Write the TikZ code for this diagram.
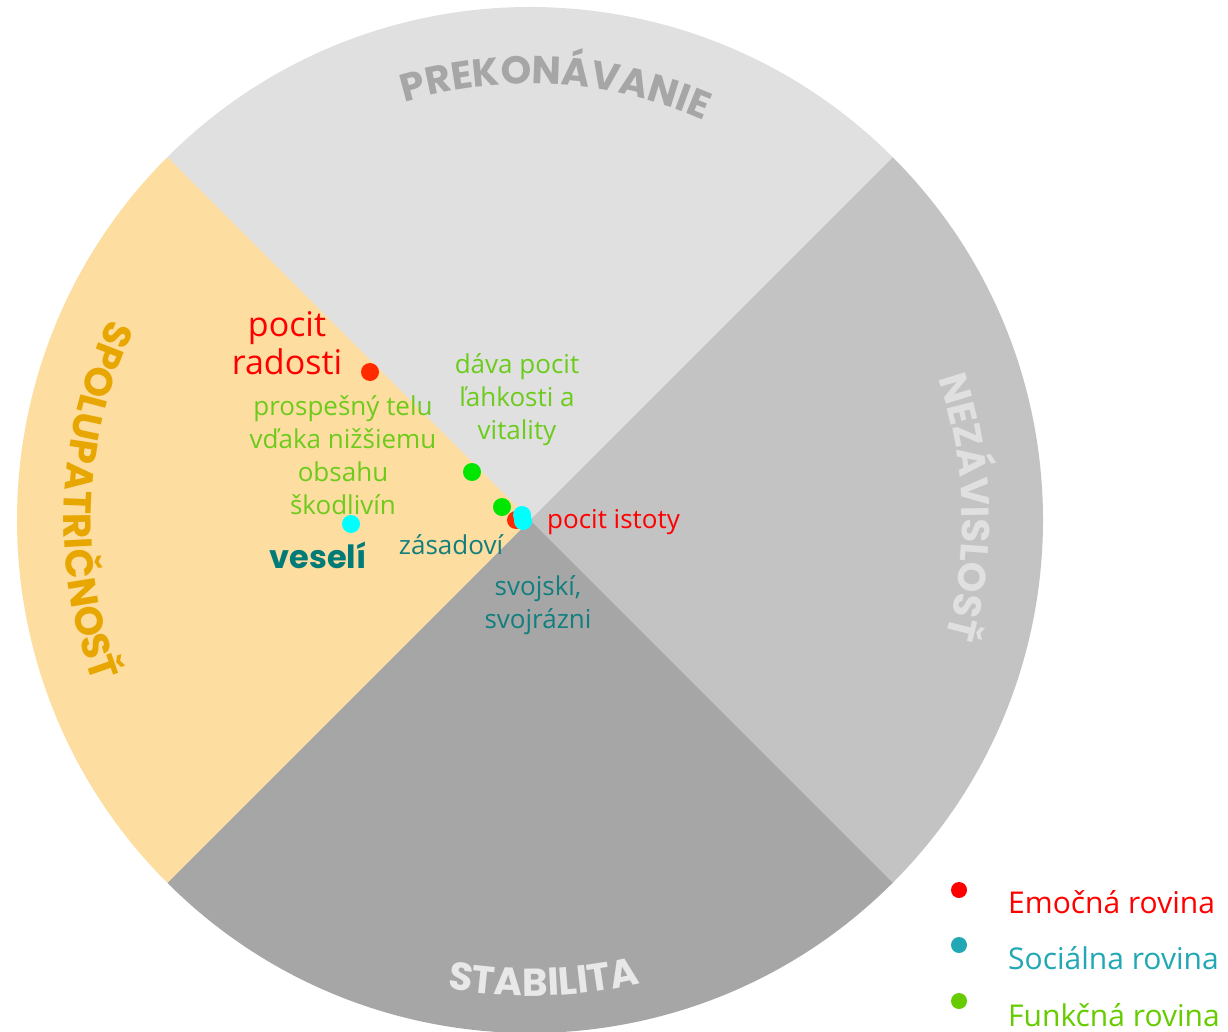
\documentclass[tikz,border=0pt]{standalone}
\usepackage{fontspec}
\setmainfont{Open Sans}
\newfontfamily\headfam{Poppins}
\usetikzlibrary{decorations.text}
\definecolor{wtop}{HTML}{E0E0E0}
\definecolor{wright}{HTML}{C3C3C3}
\definecolor{wbottom}{HTML}{A6A6A6}
\definecolor{wleft}{HTML}{FDDDA0}
\definecolor{htop}{HTML}{A6A6A6}
\definecolor{hright}{HTML}{E0E0E0}
\definecolor{hbottom}{HTML}{E8E8E8}
\definecolor{hleft}{HTML}{E8A600}
\definecolor{redT}{HTML}{FF0000}
\definecolor{greenT}{HTML}{6CCB1C}
\definecolor{tealT}{HTML}{137E7E}
\definecolor{tealB}{HTML}{007B78}
\definecolor{legTeal}{HTML}{22A7B4}
\definecolor{legGreen}{HTML}{66CC00}
\definecolor{dotRed}{HTML}{FF2A00}
\definecolor{dotGreen}{HTML}{00E600}
\definecolor{dotCyan}{HTML}{00FFFF}
\newcommand\hfont{\headfam\bfseries\fontsize{39}{39}\selectfont}
\begin{document}
\begin{tikzpicture}[x=1pt,y=1pt,
  lbl/.style={align=center, inner sep=0pt, font=\fontsize{26}{33}\selectfont},
  bigred/.style={align=center, inner sep=0pt, text=redT, font=\fontsize{34}{38}\selectfont},
  legtxt/.style={anchor=west, inner sep=0pt, font=\fontsize{30}{34}\selectfont},
  dot/.style={circle, inner sep=0pt, minimum size=18pt},
  legdot/.style={circle, inner sep=0pt, minimum size=16pt},
  heading/.style={decorate, decoration={text along path, text align=center, text color=#1}}
]
\useasboundingbox (0,0) rectangle (1228,-1032);
\coordinate (C) at (530,-520);
% wedges
\fill[wtop] (C) -- ++(135:513pt) arc[start angle=135, end angle=45, radius=513pt] -- cycle;
\fill[wright] (C) -- ++(45:513pt) arc[start angle=45, end angle=-45, radius=513pt] -- cycle;
\fill[wbottom] (C) -- ++(-45:513pt) arc[start angle=-45, end angle=-135, radius=513pt] -- cycle;
\fill[wleft] (C) -- ++(-135:513pt) arc[start angle=-135, end angle=-225, radius=513pt] -- cycle;
% curved headings
\path[heading=htop, decoration={text={|\hfont|PREKONÁVANIE}}]
  (C) ++(146.6:436pt) arc[start angle=146.6, end angle=26.6, radius=436pt];
\path[heading=hbottom, decoration={text={|\hfont|STABILITA}}]
  (C) ++(211.7:476pt) arc[start angle=211.7, end angle=331.7, radius=476pt];
\path[heading=hleft, decoration={text={|\hfont|SPOLUPATRIČNOSŤ}}]
  (C) ++(117.5:466pt) arc[start angle=117.5, end angle=237.5, radius=466pt];
\path[heading=hright, decoration={text={|\hfont|NEZÁVISLOSŤ}}]
  (C) ++(61.7:432pt) arc[start angle=61.7, end angle=-58.3, radius=432pt];
% labels
\node[bigred] (radost) at (287,-343) {pocit\\radosti};
\node[lbl, text=greenT] (telo) at (343,-455) {prospešný telu\\vďaka nižšiemu\\obsahu\\škodlivín};
\node[lbl, text=greenT] (lahkost) at (517,-400) {dáva pocit\\ľahkosti a\\vitality};
\node[inner sep=0pt, text=tealB, font=\headfam\bfseries\fontsize{32}{34}\selectfont] (veseli) at (318,-555) {veselí};
\node[lbl, text=tealT] (zasad) at (451,-545) {zásadoví};
\node[lbl, text=tealT] (svoj) at (538,-605) {svojskí,\\svojrázni};
\node[lbl, text=redT, anchor=west] (istota) at (547,-522) {pocit istoty};
% dots
\node[dot, fill=dotRed] (d1) at (370,-372) {};
\node[dot, fill=dotGreen] (d2) at (472,-472) {};
\node[dot, fill=dotGreen] (d3) at (502,-507) {};
\node[dot, fill=dotRed] (d4) at (516,-520) {};
\node[dot, fill=dotCyan] (d5) at (522,-515) {};
\node[dot, fill=dotCyan] (d6) at (523,-521) {};
\node[dot, fill=dotCyan] (d7) at (351,-524) {};
% legend
\node[legdot, fill=redT] (l1) at (959,-890) {};
\node[legdot, fill=legTeal] (l2) at (959,-945) {};
\node[legdot, fill=legGreen] (l3) at (959,-1001) {};
\node[legtxt, text=redT] (t1) at (1008,-902) {Emočná rovina};
\node[legtxt, text=legTeal] (t2) at (1008,-958) {Sociálna rovina};
\node[legtxt, text=legGreen] (t3) at (1008,-1015) {Funkčná rovina};
\end{tikzpicture}
\end{document}
